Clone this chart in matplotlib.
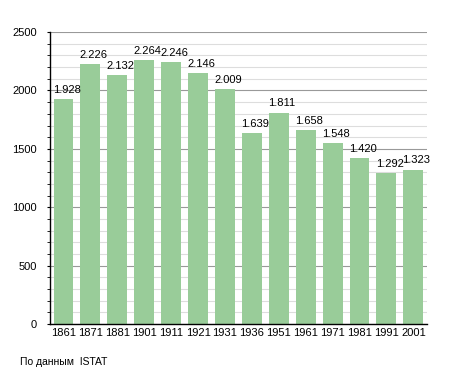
import numpy as np
import matplotlib.pyplot as plt
from matplotlib.ticker import MultipleLocator

plt.rcParams['font.family'] = ['Liberation Sans', 'DejaVu Sans']

years = ["1861", "1871", "1881", "1901", "1911", "1921", "1931",
         "1936", "1951", "1961", "1971", "1981", "1991", "2001"]
population = [1928, 2226, 2132, 2264, 2246, 2146, 2009,
              1639, 1811, 1658, 1548, 1420, 1292, 1323]
labels = ["1.928", "2.226", "2.132", "2.264", "2.246", "2.146", "2.009",
          "1.639", "1.811", "1.658", "1.548", "1.420", "1.292", "1.323"]

fig = plt.figure(figsize=(4.55, 3.73), dpi=100)
ax = fig.add_axes([0.110, 0.131, 0.828, 0.783])

x = np.arange(len(years))
w = 0.74
ax.bar(x, population, width=w, color="#99cc99", zorder=2)

# value labels, left-aligned with the bar edge
for xi, v, lab in zip(x, population, labels):
    ax.text(xi - w / 2 - 0.03, v + 35, lab, ha="left", va="bottom", fontsize=8, zorder=3)

ax.set_xlim(-0.5, len(years) - 0.5)
ax.set_ylim(0, 2500)
ax.set_xticks(x)
ax.set_xticklabels(years)
ax.yaxis.set_major_locator(MultipleLocator(500))
ax.yaxis.set_minor_locator(MultipleLocator(100))
ax.grid(axis="y", which="major", color="#999999", linewidth=0.8, zorder=0)
ax.grid(axis="y", which="minor", color="#dddddd", linewidth=0.8, zorder=0)
ax.set_axisbelow(True)

for s in ["top", "right"]:
    ax.spines[s].set_visible(False)
ax.spines["left"].set_linewidth(1.0)
ax.spines["bottom"].set_linewidth(1.0)
ax.tick_params(axis="x", length=0, labelsize=8, pad=3)
ax.tick_params(axis="y", which="major", length=2.5, labelsize=8, pad=7)
ax.tick_params(axis="y", which="minor", length=2.5)

fig.text(20 / 455, 1 - 362 / 373, "По данным  ISTAT", fontsize=7.5, va="center")

fig.savefig("out.png", dpi=100)
